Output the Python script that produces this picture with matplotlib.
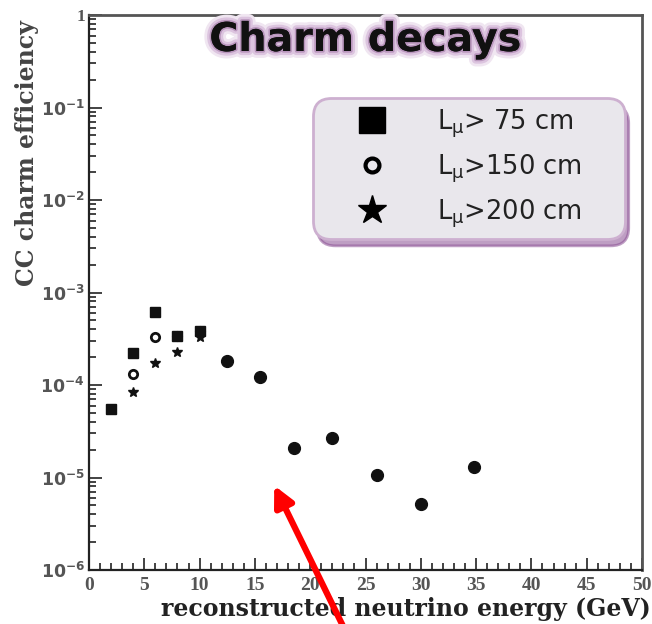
import numpy as np
import matplotlib
matplotlib.use("Agg")
import matplotlib.pyplot as plt
import matplotlib.patheffects as pe
from matplotlib.lines import Line2D
from matplotlib.ticker import FixedLocator, FuncFormatter, MultipleLocator

# --- data ---
energy_75 = [2, 4, 6, 8, 10]
eff_75 = [5.5e-5, 2.2e-4, 6.1e-4, 3.4e-4, 3.8e-4]
energy_150 = [4, 6, 8, 10]
eff_150 = [1.33e-4, 3.3e-4, 3.4e-4, 3.8e-4]
energy_200 = [4, 6, 8, 10]
eff_200 = [8.3e-5, 1.75e-4, 2.25e-4, 3.3e-4]
# points where all three cuts coincide
energy_all = [12.5, 15.5, 18.5, 22, 26, 30, 34.8]
eff_all = [1.8e-4, 1.21e-4, 2.1e-5, 2.7e-5, 1.06e-5, 5.2e-6, 1.29e-5]

labels = [r"L$_{\mathrm{\mu}}$> 75 cm", r"L$_{\mathrm{\mu}}$>150 cm",
          r"L$_{\mathrm{\mu}}$>200 cm"]

SERIF = "Liberation Serif"
LABEL_FONT = "DejaVu Serif"
TICK_COL = "#555555"

fig = plt.figure(figsize=(6.52, 6.24), dpi=100)
ax = fig.add_axes([89 / 652, 54 / 624, 553 / 652, 555 / 624])

ax.plot(energy_150, eff_150, ls="none", marker="o", ms=6, mfc="white",
        mec="#111111", mew=2, zorder=2)
ax.plot(energy_75, eff_75, ls="none", marker="s", ms=6.5, color="#111111",
        zorder=3)
ax.plot(energy_200, eff_200, ls="none", marker="*", ms=7, color="#111111",
        zorder=4)
ax.plot(energy_all, eff_all, ls="none", marker="o", ms=8.5, color="#111111")

ax.set_yscale("log")
ax.set_xlim(0, 50)
ax.set_ylim(1e-6, 1)

ax.xaxis.set_major_locator(MultipleLocator(5))
ax.xaxis.set_minor_locator(MultipleLocator(1))
ax.yaxis.set_major_locator(FixedLocator([10.0 ** k for k in range(-6, 1)]))
ax.yaxis.set_minor_locator(FixedLocator(
    [m * 10.0 ** k for k in range(-6, 0) for m in range(2, 10)]))


def ylab(v, pos):
    k = int(round(np.log10(v)))
    return "1" if k == 0 else r"$\mathbf{10^{%d}}$" % k


ax.yaxis.set_major_formatter(FuncFormatter(ylab))
ax.yaxis.set_minor_formatter(FuncFormatter(lambda v, p: ""))

ax.tick_params(which="both", direction="in", top=False, right=False,
               colors="#222222", labelcolor=TICK_COL, width=1.2)
ax.tick_params(which="major", length=9)
ax.tick_params(which="minor", length=5)
ax.tick_params(axis="x", labelsize=14, pad=5)
ax.tick_params(axis="y", labelsize=12.5, pad=3)
for lab in ax.get_xticklabels() + ax.get_yticklabels():
    lab.set_family(SERIF)
    lab.set_fontweight("bold")

for side in ["left", "bottom"]:
    ax.spines[side].set_color("#222222")
    ax.spines[side].set_linewidth(1.6)
for side in ["top", "right"]:
    ax.spines[side].set_color("#555555")
    ax.spines[side].set_linewidth(2)

ax.set_ylabel("CC charm efficiency", family=LABEL_FONT, fontweight="bold",
              fontsize=17, color="#444444", loc="top")
ax.yaxis.set_label_coords(-0.09, 0.99)
ax.set_xlabel("reconstructed neutrino energy (GeV)", family=LABEL_FONT,
              fontweight="bold", fontsize=17, color="#222222", loc="right")
ax.xaxis.set_label_coords(1.015, -0.048)

ax.text(0.5, 0.955, "Charm decays", transform=ax.transAxes, ha="center",
        va="center", fontsize=28.5, fontweight="bold", family="DejaVu Sans",
        color="#111111",
        path_effects=[pe.withStroke(linewidth=10, foreground="#f0e6f1"),
                      pe.withStroke(linewidth=6, foreground="#dcc4df"),
                      pe.withStroke(linewidth=2.5, foreground="#b996bd"),
                      pe.Normal()])

handles = [
    Line2D([], [], ls="none", marker="s", ms=19, color="black"),
    Line2D([], [], ls="none", marker="o", ms=10, mfc="none", mec="black", mew=3),
    Line2D([], [], ls="none", marker="*", ms=21, color="black"),
]
leg = ax.legend(handles, labels, loc="upper right", mode="expand",
                bbox_to_anchor=(0.4195, 0.536, 0.535, 0.3), fontsize=18.5,
                frameon=True, fancybox=True, facecolor="#e9e7ec",
                edgecolor="#cdb0d0", framealpha=1, handlelength=3.9,
                handletextpad=0.55, borderpad=0.05, borderaxespad=0,
                labelspacing=0.5,
                shadow={"color": "#8a4f93", "alpha": 0.55, "ox": 3, "oy": -5})
leg.get_frame().set_linewidth(2)
leg.get_frame().set_boxstyle("round", pad=0.3, rounding_size=0.7)
for t in leg.get_texts():
    t.set_color("#222222")

ax.annotate("", xy=(273 / 652, 1 - 483 / 624), xycoords="figure fraction",
            xytext=(345 / 652, -0.01), textcoords="figure fraction",
            arrowprops=dict(arrowstyle="-|>,head_length=1.2,head_width=0.6",
                            color="#ff0000", lw=4.5),
            annotation_clip=False)

fig.savefig("out.png", dpi=100)
